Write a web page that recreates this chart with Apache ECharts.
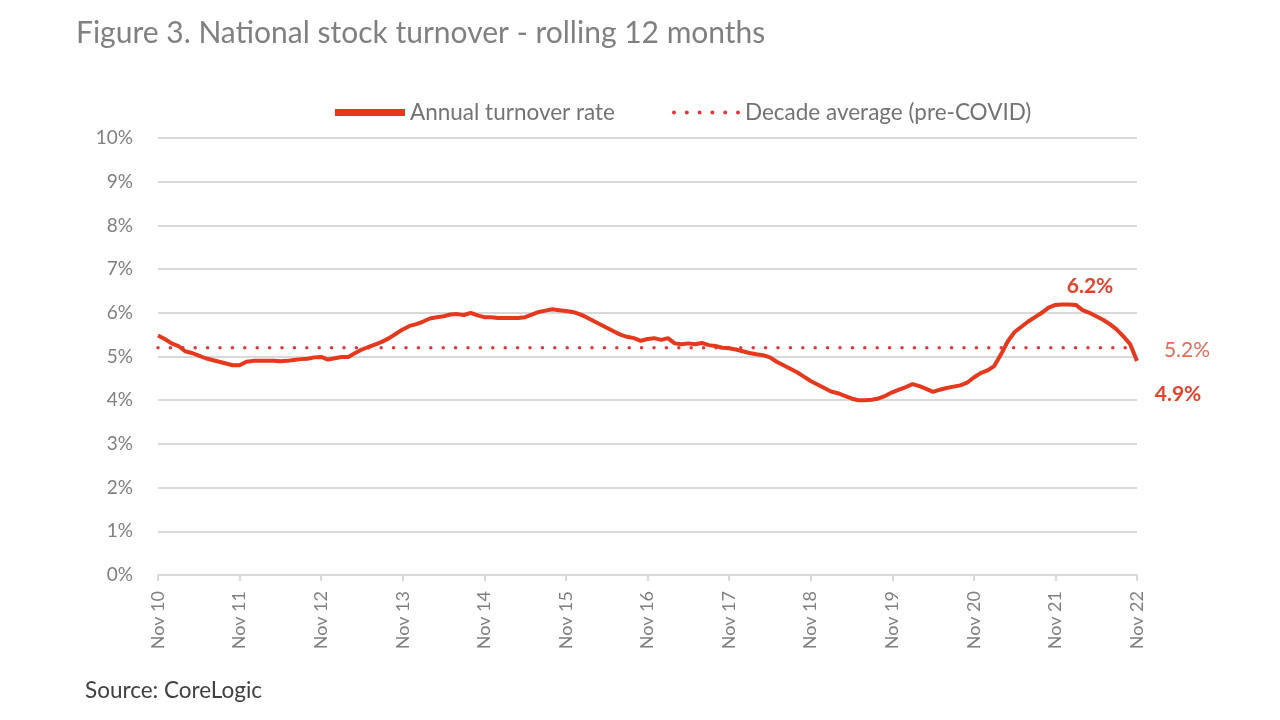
<!DOCTYPE html>
<html>
<head>
<meta charset="utf-8">
<script src="https://cdn.jsdelivr.net/npm/echarts@6/dist/echarts.min.js"></script>
<style>
html,body{margin:0;padding:0;background:#fff;}
#c{width:1280px;height:720px;}
</style>
</head>
<body>
<div id="c"></div>
<script>
// ---- data ----
const monthNames = ["Nov","Dec","Jan","Feb","Mar","Apr","May","Jun","Jul","Aug","Sep","Oct"];
const startYear = 10; // Nov 2010
const turnover = [
  5.48,5.40,5.30,5.24,5.12,5.08,5.02,4.96,4.92,4.88,4.84,4.80,
  4.80,4.88,4.90,4.90,4.90,4.90,4.89,4.90,4.92,4.94,4.95,4.98,
  4.99,4.93,4.96,4.99,4.99,5.08,5.16,5.22,5.28,5.34,5.42,5.52,
  5.62,5.70,5.74,5.80,5.87,5.90,5.92,5.96,5.97,5.95,6.00,5.94,
  5.90,5.90,5.88,5.88,5.88,5.88,5.90,5.96,6.02,6.05,6.08,6.06,
  6.04,6.02,5.97,5.90,5.82,5.74,5.66,5.58,5.50,5.45,5.42,5.36,
  5.40,5.42,5.38,5.42,5.30,5.28,5.30,5.28,5.31,5.26,5.24,5.20,
  5.19,5.16,5.12,5.08,5.05,5.03,4.98,4.88,4.80,4.72,4.64,4.54,
  4.44,4.36,4.28,4.20,4.16,4.10,4.04,4.00,4.00,4.01,4.04,4.10,
  4.18,4.24,4.30,4.37,4.32,4.26,4.19,4.24,4.28,4.31,4.34,4.40,
  4.52,4.62,4.68,4.78,5.05,5.35,5.56,5.68,5.80,5.90,6.00,6.12,
  6.18,6.19,6.19,6.18,6.06,6.00,5.92,5.84,5.74,5.62,5.46,5.28,
  4.90
];
const decadeAverage = 5.2;
const peakLabel = "6.2%";
const avgLabel = "5.2%";
const lastLabel = "4.9%";

// categories built from month names (Nov/Dec in start year, Jan-Oct in next)
const categories = turnover.map((v, i) => {
  const m = i % 12;
  const y = startYear + Math.floor(i / 12) + (m >= 2 ? 1 : 0);
  return monthNames[m] + " " + String(y).padStart(2, "0");
});
const avgSeries = categories.map(() => decadeAverage);
const peakIdx = 134;
const lastIdx = turnover.length - 1;

const RED = "#e5381d";
const GRAY = "#7f7f7f";
const FONT = "Lato";

// dotted legend icon: 6 round dots
let dotPath = "path://";
for (let i = 0; i < 6; i++) {
  const x = (i * 12.8).toFixed(1);
  dotPath += `M${x},2a2,2 0 1,0 4,0a2,2 0 1,0 -4,0Z`;
}

const legendText = { fontFamily: FONT, fontSize: 22.5, color: "#737373" };

const chart = echarts.init(document.getElementById("c"));
chart.setOption({
  animation: false,
  backgroundColor: "#fff",
  textStyle: { fontFamily: FONT },
  title: [
    { text: "Figure 3. National stock turnover - rolling 12 months", left: 71, top: 13,
      textStyle: { fontFamily: FONT, fontSize: 30, fontWeight: "normal", color: "#808080" } },
    { text: "Source: CoreLogic", left: 80, top: 674,
      textStyle: { fontFamily: FONT, fontSize: 22.5, fontWeight: "normal", color: "#404040" } }
  ],
  legend: [
    {
      top: 96, left: 330, itemWidth: 70, itemHeight: 7, itemGap: 10,
      textStyle: legendText,
      data: [{ name: "Annual turnover rate", icon: "path://M0,0H70V7H0Z" }]
    },
    {
      top: 96, left: 667, itemWidth: 68, itemHeight: 4,
      textStyle: legendText,
      data: [{ name: "Decade average (pre-COVID)", icon: dotPath }]
    }
  ],
  grid: { left: 158, right: 143, top: 138, bottom: 145 },
  xAxis: {
    type: "category", data: categories, boundaryGap: false,
    axisLine: { lineStyle: { color: "#d9d9d9", width: 2 } },
    axisTick: { show: true, interval: 11, length: 6, lineStyle: { color: "#d9d9d9", width: 2 } },
    axisLabel: { interval: 11, rotate: 90, margin: 16, fontSize: 18, color: GRAY, fontFamily: FONT },
    splitLine: { show: false }
  },
  yAxis: {
    type: "value", min: 0, max: 10, interval: 1,
    axisLine: { show: false }, axisTick: { show: false },
    axisLabel: { formatter: v => v + "%", fontSize: 19, color: GRAY, margin: 25, fontFamily: FONT },
    splitLine: { lineStyle: { color: "#d9d9d9", width: 2 } }
  },
  series: [
    {
      name: "Annual turnover rate", type: "line", data: turnover, showSymbol: false, symbol: "none",
      lineStyle: { color: RED, width: 4 }, itemStyle: { color: RED }, z: 3,
      markPoint: {
        symbol: "circle", symbolSize: 0, silent: true,
        data: [
          { coord: [peakIdx, turnover[peakIdx]],
            label: { show: true, formatter: peakLabel, offset: [21, -18], color: "#e8412a", fontWeight: "bold", fontSize: 21, fontFamily: FONT } },
          { coord: [lastIdx, turnover[lastIdx]],
            label: { show: true, formatter: lastLabel, offset: [41, 33], color: "#e8412a", fontWeight: "bold", fontSize: 21, fontFamily: FONT } }
        ]
      }
    },
    {
      name: "Decade average (pre-COVID)", type: "line", data: avgSeries, showSymbol: false, symbol: "none",
      lineStyle: { color: "#e0383a", width: 3.5, type: [0, 12.4], cap: "round" }, itemStyle: { color: "#e0383a" }, z: 2,
      markPoint: {
        symbol: "circle", symbolSize: 0, silent: true,
        data: [
          { coord: [lastIdx, decadeAverage],
            label: { show: true, formatter: avgLabel, offset: [50, 2], color: "#ec6a56", fontSize: 21, fontFamily: FONT } }
        ]
      }
    }
  ]
});
</script>
</body>
</html>
